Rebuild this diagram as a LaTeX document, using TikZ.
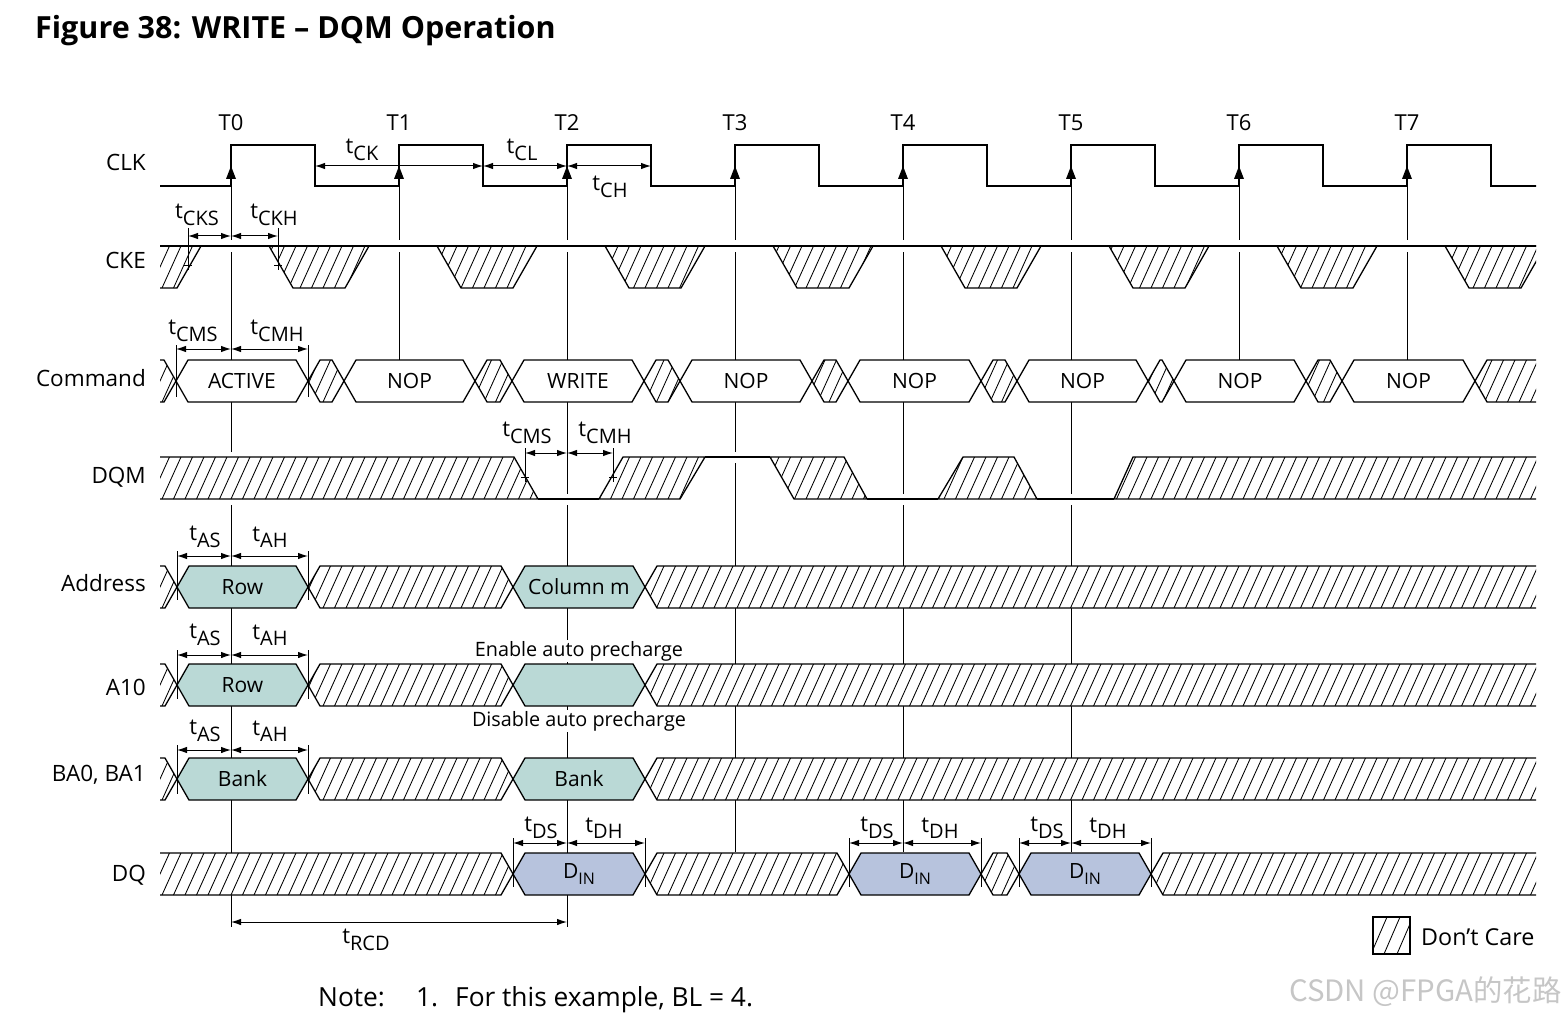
\documentclass[tikz,border=0pt]{standalone}
\usepackage{fontspec}
\setmainfont{Open Sans}
\newfontfamily\cjkfont{Noto Sans CJK SC}
\usetikzlibrary{arrows.meta}
\definecolor{addrfill}{RGB}{186,217,214}
\definecolor{dinfill}{RGB}{183,195,221}

\newcommand\tsub[1]{t\raisebox{-0.29em}{\fontsize{20}{20}\selectfont #1}}
\newcommand\dsub[1]{D\raisebox{-0.3em}{\fontsize{16}{16}\selectfont #1}}

\newcommand\hatchlines[3]{%
  \pgfmathtruncatemacro\hkA{floor((#1-160)/11.5)-2}%
  \pgfmathtruncatemacro\hkB{ceil((#2-160)/11.5)+2}%
  \foreach \hk in {\hkA,...,\hkB}{\draw[hl] ({160+\hk*11.5-9.5},{#3+42}) -- ++(19,-42);}%
}
\newcommand\hexpath[3]{(#1,#3)--({#1+12},{#3-21})--({#2-12},{#3-21})--(#2,#3)--({#2-12},{#3+21})--({#1+12},{#3+21})--cycle}
\newcommand\hexhatch[3]{%
  \fill[white]\hexpath{#1}{#2}{#3};
  \begin{scope}\clip\hexpath{#1}{#2}{#3};\hatchlines{#1}{#2}{#3-21}\end{scope}
  \draw[sig]\hexpath{#1}{#2}{#3};}
\newcommand\hexdata[6]{%
  \draw[sig,fill=#5]\hexpath{#2}{#3}{#4};
  \node[boxtxt] (#1) at ({(#2+#3)/2},#4) {#6};}
\newcommand\polyhatch[4]{%
  \fill[white] #1;
  \begin{scope}\clip #1;\hatchlines{#2}{#3}{#4}\end{scope}
  \draw[sig] #1;}

\begin{document}
\begin{tikzpicture}[x=1pt,y=-1pt,
  sig/.style={line width=1.3pt,line join=miter},
  hl/.style={line width=0.85pt},
  guide/.style={line width=1pt},
  tk/.style={line width=1pt},
  dimarrow/.style={line width=1pt,{Latex[length=10pt,width=6.5pt]}-{Latex[length=10pt,width=6.5pt]}},
  lbl/.style={anchor=east,font=\fontsize{22.5}{26}\selectfont,inner sep=0pt},
  boxtxt/.style={font=\fontsize{21}{24}\selectfont,inner sep=0pt},
  tlab/.style={font=\fontsize{22}{26}\selectfont,inner sep=1pt},
  halo/.style={white,line width=11pt}]
\useasboundingbox (0,0) rectangle (1566,1019);

% title
\node[anchor=west,font=\fontsize{30.5}{34}\selectfont\bfseries,inner sep=0pt] (title) at (35,31) {Figure 38: WRITE -- DQM Operation};

% row labels
\node[lbl] (lclk) at (146,162) {CLK};
\node[lbl] (lcke) at (146,260) {CKE};
\node[lbl] (lcmd) at (146,378) {Command};
\node[lbl] (ldqm) at (146,477) {DQM};
\node[lbl] (ladr) at (146,583) {Address};
\node[lbl] (la10) at (146,687) {A10};
\node[lbl] (lba) at (146,775) {BA0, BA1};
\node[lbl] (ldq) at (146,875) {DQ};

% clock labels
\foreach \i in {0,...,7} \node[tlab] (T\i) at ({231+168*\i},123) {T\i};

% guide lines
\draw[guide] (231,186)--(231,927) (399,186)--(399,360) (567,186)--(567,927)
  (735,186)--(735,852) (903,186)--(903,852) (1071,186)--(1071,852)
  (1239,186)--(1239,360) (1407,186)--(1407,360);

\begin{scope}
\clip (160,0) rectangle (1536,1019);
% CLK
\draw[sig] (150,186) foreach \i in {0,...,7}{ -- ({231+168*\i},186) -- ({231+168*\i},145) -- ({315+168*\i},145) -- ({315+168*\i},186)} -- (1540,186);
% CKE
\draw[halo] (160,246)--(1536,246);
\foreach \f in {147,315,...,1491}{\polyhatch{({\f-46},246)--({\f+54},246)--({\f+30},288)--({\f-22},288)--cycle}{\f-50}{\f+60}{246}}
\draw[sig] (150,246)--(1540,246);
% Command
\hexhatch{100}{176}{381}
\hexdata{cact}{176}{308}{381}{white}{ACTIVE}
\hexhatch{308}{344}{381}
\hexdata{cnop1}{344}{475}{381}{white}{NOP}
\hexhatch{475}{512}{381}
\hexdata{cwr}{512}{644}{381}{white}{WRITE}
\hexhatch{644}{680}{381}
\hexdata{cnop3}{680}{812}{381}{white}{NOP}
\hexhatch{812}{848}{381}
\hexdata{cnop4}{848}{981}{381}{white}{NOP}
\hexhatch{981}{1017}{381}
\hexdata{cnop5}{1017}{1148}{381}{white}{NOP}
\hexhatch{1148}{1174}{381}
\hexdata{cnop6}{1174}{1306}{381}{white}{NOP}
\hexhatch{1306}{1342}{381}
\hexdata{cnop7}{1342}{1475}{381}{white}{NOP}
\hexhatch{1475}{1600}{381}
% DQM
\draw[halo] (160,457)--(514,457) (623,457)--(844,457) (963,457)--(1014,457) (1133,457)--(1536,457)
  (160,499)--(680,499) (794,499)--(1536,499);
\polyhatch{(100,457)--(514,457)--(538,499)--(100,499)--cycle}{100}{540}{457}
\polyhatch{(599,499)--(623,457)--(705,457)--(680,499)--cycle}{599}{705}{457}
\polyhatch{(770,457)--(844,457)--(867,499)--(794,499)--cycle}{770}{867}{457}
\polyhatch{(938,499)--(963,457)--(1014,457)--(1037,499)--cycle}{938}{1037}{457}
\polyhatch{(1114,499)--(1133,457)--(1600,457)--(1600,499)--cycle}{1114}{1600}{457}
\draw[sig] (538,499)--(599,499) (705,457)--(770,457) (867,499)--(938,499) (1037,499)--(1114,499);
% Address
\hexhatch{100}{177}{587}
\hexdata{arow}{177}{308}{587}{addrfill}{Row}
\hexhatch{308}{513}{587}
\hexdata{acol}{513}{645}{587}{addrfill}{Column m}
\hexhatch{645}{1600}{587}
% A10
\hexhatch{100}{177}{685}
\hexdata{a10row}{177}{308}{685}{addrfill}{Row}
\hexhatch{308}{513}{685}
\hexdata{a10ap}{513}{645}{685}{addrfill}{}
\hexhatch{645}{1600}{685}
% BA
\hexhatch{100}{177}{779}
\hexdata{bab1}{177}{308}{779}{addrfill}{Bank}
\hexhatch{308}{513}{779}
\hexdata{bab2}{513}{645}{779}{addrfill}{Bank}
\hexhatch{645}{1600}{779}
% DQ
\hexhatch{100}{513}{874}
\hexdata{dq1}{513}{645}{874}{dinfill}{\dsub{IN}}
\hexhatch{645}{849}{874}
\hexdata{dq2}{849}{981}{874}{dinfill}{\dsub{IN}}
\hexhatch{981}{1019}{874}
\hexdata{dq3}{1019}{1151}{874}{dinfill}{\dsub{IN}}
\hexhatch{1151}{1600}{874}
\end{scope}

% clock edge arrows
\foreach \i in {0,...,7} \fill ({231+168*\i-5},179) -- ({231+168*\i},166) -- ({231+168*\i+5},179) -- cycle;

% CLK timing
\draw[dimarrow] (315,166)--(483,166);
\draw[dimarrow] (483,166)--(567,166);
\draw[dimarrow] (567,166)--(651,166);
\node[tlab] (ltck) at (362,150) {\tsub{CK}};
\node[tlab] (ltcl) at (522,150) {\tsub{CL}};
\node[tlab] (ltch) at (610,187) {\tsub{CH}};

% CKE timing
\draw[tk] (188,228)--(188,270) (184,265)--(192,265) (278,228)--(278,270) (274,265)--(282,265);
\draw[dimarrow] (188,236)--(231,236);
\draw[dimarrow] (231,236)--(278,236);
\node[tlab] (ltcks) at (197,215) {\tsub{CKS}};
\node[tlab] (ltckh) at (274,215) {\tsub{CKH}};

% Command timing
\draw[tk] (176,345)--(176,397) (308,345)--(308,397);
\draw[dimarrow] (176,349)--(231,349);
\draw[dimarrow] (231,349)--(308,349);
\node[tlab] (ltcms) at (193,331) {\tsub{CMS}};
\node[tlab] (ltcmh) at (277,331) {\tsub{CMH}};

% DQM timing
\draw[tk] (525,448)--(525,482) (521,477)--(529,477) (613,448)--(613,482) (609,477)--(617,477);
\draw[dimarrow] (525,453)--(567,453);
\draw[dimarrow] (567,453)--(613,453);
\node[tlab] (ltcms2) at (527,433) {\tsub{CMS}};
\node[tlab] (ltcmh2) at (605,433) {\tsub{CMH}};

% Address / A10 / BA timing
\foreach \ya/\yt/\ylab/\nm in {556/551/537/a, 655/650/635/b, 750/745/731/c}{
  \draw[tk] (177,\yt)--(177,{\yt+49}) (308,\yt)--(308,{\yt+49});
  \draw[dimarrow] (177,\ya)--(231,\ya);
  \draw[dimarrow] (231,\ya)--(308,\ya);
  \node[tlab] (ltas\nm) at (205,\ylab) {\tsub{AS}};
  \node[tlab] (ltah\nm) at (270,\ylab) {\tsub{AH}};
}
\node[font=\fontsize{19.8}{22}\selectfont,fill=white,inner sep=1pt] (ena) at (579,651) {Enable auto precharge};
\node[font=\fontsize{19.8}{22}\selectfont,fill=white,inner sep=1pt] (dis) at (579,721) {Disable auto precharge};

% DQ timing
\foreach \a/\m/\b/\nm in {513/567/645/a, 849/903/981/b, 1019/1071/1151/c}{
  \draw[tk] (\a,838)--(\a,887) (\b,838)--(\b,887);
  \draw[dimarrow] (\a,843)--(\m,843);
  \draw[dimarrow] (\m,843)--(\b,843);
  \node[tlab] (ltds\nm) at ({\a+28},828) {\tsub{DS}};
  \node[tlab] (ltdh\nm) at ({\m+37},828) {\tsub{DH}};
}
\draw[dimarrow] (231,922)--(567,922);
\node[tlab] (ltrcd) at (366,940) {\tsub{RCD}};

% legend
\fill[white] (1373,917) rectangle (1410,954);
\begin{scope}
\clip (1373,917) rectangle (1410,954);
\foreach \x in {1366,1379,...,1418} \draw[hl] ({\x-8},954)--({\x+8},917);
\end{scope}
\draw[sig] (1373,917) rectangle (1410,954);
\node[anchor=west,font=\fontsize{23.3}{26}\selectfont,inner sep=0pt] (dc) at (1421,937) {Don’t Care};

% note
\node[anchor=base west,font=\fontsize{26.3}{30}\selectfont,inner sep=0pt] (note) at (318,1006) {Note:};
\node[anchor=base west,font=\fontsize{26.3}{30}\selectfont,inner sep=0pt] (note1) at (416,1006) {1.};
\node[anchor=base west,font=\fontsize{26.3}{30}\selectfont,inner sep=0pt] (note2) at (455,1006) {For this example, BL = 4.};

% watermark
\node[anchor=west,text=gray!45,font=\cjkfont\fontsize{29.4}{32}\selectfont,inner sep=0pt] (wm) at (1289,992) {CSDN @FPGA的花路};
\end{tikzpicture}
\end{document}
